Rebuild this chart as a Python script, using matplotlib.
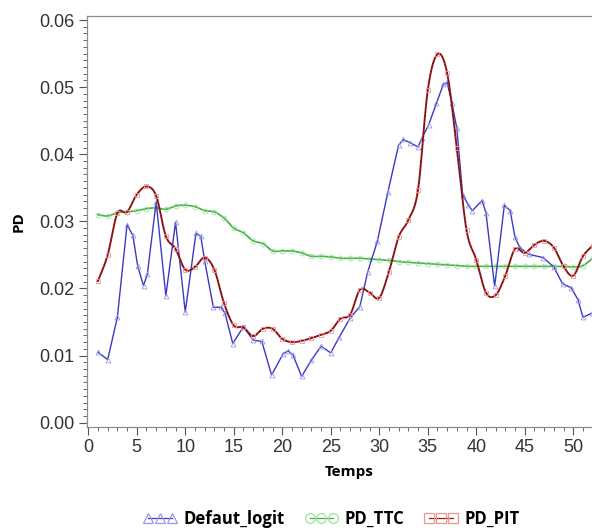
import numpy as np
import matplotlib.pyplot as plt
from matplotlib.ticker import MultipleLocator, FormatStrFormatter

# time axis (same grid for the two PD series)
temps = np.arange(1, 53)

pd_ttc = [0.0310, 0.0308, 0.0313, 0.0314, 0.0316, 0.0319, 0.0320, 0.0318, 0.0323, 0.0324,
          0.0322, 0.0316, 0.0314, 0.0305, 0.0290, 0.0283, 0.0271, 0.0267, 0.0256, 0.0256,
          0.0256, 0.0253, 0.0248, 0.0248, 0.0247, 0.0245, 0.0245, 0.0245, 0.0244, 0.0243,
          0.0242, 0.0240, 0.0239, 0.0238, 0.0237, 0.0236, 0.0235, 0.0234, 0.0233, 0.0233,
          0.0233, 0.0233, 0.0233, 0.0233, 0.0233, 0.0233, 0.0233, 0.0233, 0.0233, 0.0232,
          0.0234, 0.0245]

pd_pit = [0.0211, 0.0250, 0.0312, 0.0314, 0.0340, 0.0352, 0.0338, 0.0278, 0.0259, 0.0228,
          0.0232, 0.0246, 0.0228, 0.0178, 0.0145, 0.0142, 0.0129, 0.0140, 0.0140, 0.0125,
          0.0120, 0.0122, 0.0126, 0.0131, 0.0137, 0.0155, 0.0161, 0.0198, 0.0194, 0.0186,
          0.0225, 0.0277, 0.0302, 0.0347, 0.0495, 0.0549, 0.0521, 0.0410, 0.0287, 0.0243,
          0.0194, 0.0190, 0.0219, 0.0259, 0.0253, 0.0265, 0.0271, 0.0261, 0.0233, 0.0219,
          0.0248, 0.0264]

# logit model: own time points
logit_t = [1.0, 2.0, 3.0, 4.0, 4.6, 5.1, 5.7, 6.1, 7.0, 8.0,
           9.0, 10.0, 11.1, 11.6, 12.0, 12.9, 13.7, 14.1, 14.9, 16.0,
           17.0, 17.9, 18.9, 20.1, 20.6, 21.1, 22.0, 23.0, 24.0, 25.0,
           25.9, 27.0, 28.0, 28.8, 29.8, 30.9, 32.0, 32.5, 33.2, 34.0,
           34.4, 35.1, 35.9, 36.6, 37.0, 37.5, 38.0, 38.6, 39.2, 39.6,
           40.6, 41.0, 41.9, 42.9, 43.5, 44.0, 44.5, 45.4, 46.9, 48.0,
           48.9, 49.8, 50.5, 51.0, 51.9]
logit_pd = [0.0105, 0.0094, 0.0157, 0.0295, 0.0279, 0.0233, 0.0204, 0.0222, 0.0329, 0.0189,
            0.0299, 0.0165, 0.0282, 0.0278, 0.0241, 0.0172, 0.0172, 0.0163, 0.0118, 0.0143,
            0.0123, 0.0121, 0.0071, 0.0103, 0.0107, 0.0101, 0.0069, 0.0093, 0.0114, 0.0104,
            0.0128, 0.0156, 0.0173, 0.0224, 0.0270, 0.0344, 0.0414, 0.0422, 0.0417, 0.0411,
            0.0424, 0.0444, 0.0476, 0.0504, 0.0507, 0.0476, 0.0439, 0.0340, 0.0324, 0.0316,
            0.0331, 0.0313, 0.0203, 0.0324, 0.0316, 0.0276, 0.0261, 0.0251, 0.0246, 0.0232,
            0.0207, 0.0201, 0.0183, 0.0157, 0.0163]


def smooth_curve(x, y, n=10):
    # Catmull-Rom spline through the points (line only, markers stay on the data)
    x = np.asarray(x, float)
    y = np.asarray(y, float)
    px = np.concatenate([[2 * x[0] - x[1]], x, [2 * x[-1] - x[-2]]])
    py = np.concatenate([[2 * y[0] - y[1]], y, [2 * y[-1] - y[-2]]])
    s = np.linspace(0, 1, n, endpoint=False)
    xs, ys = [], []
    for i in range(1, len(px) - 2):
        for p, out in ((px, xs), (py, ys)):
            p0, p1, p2, p3 = p[i - 1], p[i], p[i + 1], p[i + 2]
            out.append(0.5 * (2 * p1 + (-p0 + p2) * s
                              + (2 * p0 - 5 * p1 + 4 * p2 - p3) * s ** 2
                              + (-p0 + 3 * p1 - 3 * p2 + p3) * s ** 3))
    xs.append([x[-1]])
    ys.append([y[-1]])
    return np.concatenate(xs), np.concatenate(ys)


tick_font = 'Liberation Sans'
label_font = 'Open Sans'

fig = plt.figure(figsize=(5.92, 5.32), dpi=100)
ax = fig.add_axes([87 / 592, 105 / 532, 525 / 592, 411 / 532])

c_blue, c_blue_m = '#3a3ac2', '#9a9aea'
c_green, c_green_m = '#42b042', '#9ee09e'
c_red, c_red_m = '#9e1b1b', '#eb9595'

# lines
ax.plot(logit_t, logit_pd, color=c_blue, lw=1.0, zorder=3)
gx, gy = smooth_curve(temps, pd_ttc)
ax.plot(gx, gy, color=c_green, lw=1.2, zorder=2)
rx, ry = smooth_curve(temps, pd_pit)
ax.plot(rx, ry, color=c_red, lw=1.4, zorder=4)
ax.plot(rx, ry, color='black', lw=0.5, ls=(0, (3, 3)), alpha=0.5, zorder=4)

# markers
ax.plot(logit_t, logit_pd, ls='none', marker='^', ms=3.5, mfc='none', mec=c_blue_m, mew=0.6, zorder=3)
ax.plot(temps, pd_ttc, ls='none', marker='o', ms=3.5, mfc='none', mec=c_green_m, mew=0.6, zorder=2)
ax.plot(temps, pd_pit, ls='none', marker='s', ms=3.5, mfc='none', mec=c_red_m, mew=0.6, zorder=4)

ax.set_xlim(-0.13, 54)
ax.set_ylim(-0.00064, 0.0606)

ax.xaxis.set_major_locator(MultipleLocator(5))
ax.xaxis.set_minor_locator(MultipleLocator(1))
ax.yaxis.set_major_locator(MultipleLocator(0.01))
ax.yaxis.set_minor_locator(MultipleLocator(0.001))
ax.yaxis.set_major_formatter(FormatStrFormatter('%.2f'))

ax.spines['right'].set_visible(False)
for sp in ('left', 'top', 'bottom'):
    ax.spines[sp].set_color('#8c8c8c')
    ax.spines[sp].set_linewidth(0.9)

ax.tick_params(axis='both', which='major', direction='out', length=6, width=0.8,
               color='#555555', labelsize=13, labelcolor='#333333', pad=3)
ax.tick_params(axis='both', which='minor', direction='out', length=3, width=0.7, color='#666666')
for lab in ax.get_xticklabels() + ax.get_yticklabels():
    lab.set_fontfamily(tick_font)

ax.set_xlabel('Temps', fontsize=11, fontweight='bold', fontfamily=label_font, labelpad=6)
ax.set_ylabel('PD', fontsize=11, fontweight='bold', fontfamily=label_font, labelpad=10)

# legend below the plot, no frame
handles = [
    plt.Line2D([], [], color=c_blue, lw=0.9, marker='^', ms=7, mfc='none', mec=c_blue_m, mew=0.9),
    plt.Line2D([], [], color=c_green, lw=0.9, marker='o', ms=7, mfc='none', mec=c_green_m, mew=0.9),
    plt.Line2D([], [], color=c_red, lw=0.9, marker='s', ms=7, mfc='none', mec=c_red_m, mew=0.9),
]
fig.legend(handles, ['Defaut_logit', 'PD_TTC', 'PD_PIT'], loc='center',
           bbox_to_anchor=(0.56, 0.025), ncol=3, frameon=False, numpoints=3,
           handlelength=2.0, handletextpad=0.4, columnspacing=1.2,
           prop={'family': label_font, 'weight': 'bold', 'size': 12})

plt.savefig('out.png', dpi=100)
plt.close(fig)
